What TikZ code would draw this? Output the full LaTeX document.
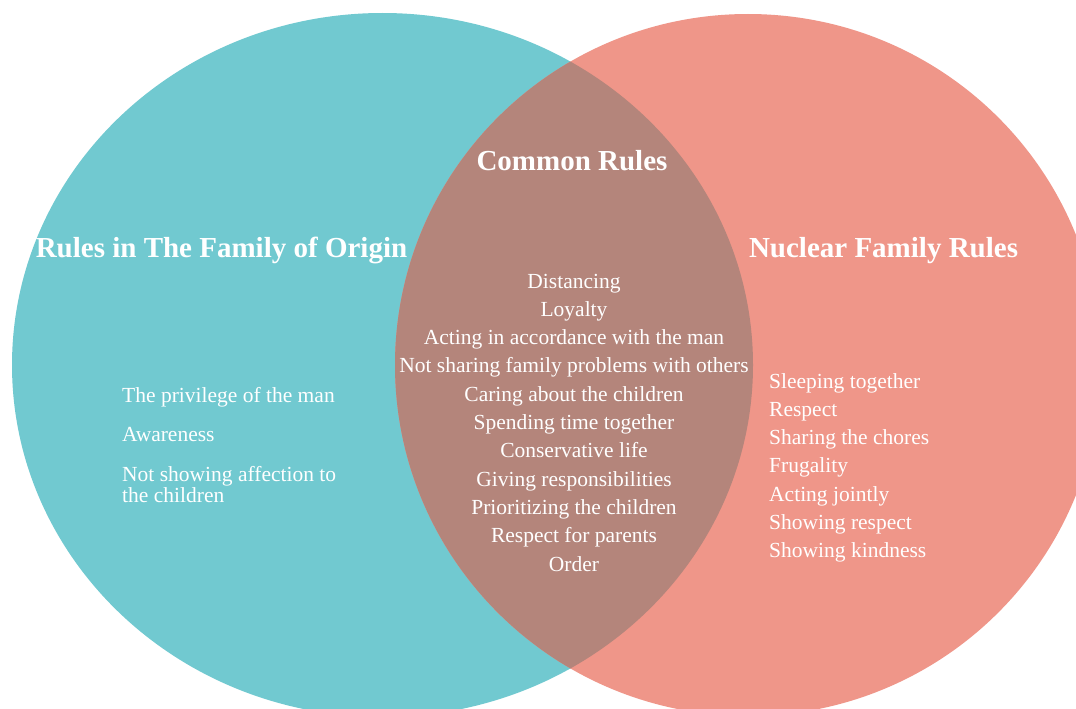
\documentclass[tikz,border=0pt]{standalone}
\usepackage{fontspec}
\setmainfont{Liberation Serif}
\usetikzlibrary{positioning}
\definecolor{origin}{RGB}{113,201,208}
\definecolor{nuclear}{RGB}{239,150,137}
\definecolor{common}{RGB}{180,133,123}
\tikzset{
x=1pt, y=-1pt, % one unit per pixel, y runs downwards
heading/.style={text=white, font=\bfseries\fontsize{29}{32}\selectfont, inner sep=0pt}, % titles of the three sets
item/.style={text=white, font=\fontsize{21.5}{24}\selectfont, inner sep=0pt, text height=15pt, text depth=5pt}, % one rule per node
sideitem/.style={item, text width=230pt, align=flush left}, % left aligned rules
}

\begin{document}
\begin{tikzpicture}
    \useasboundingbox (0,0) rectangle (1076,709);
    \fill[white] (0,0) rectangle (1076,709);
    \clip (0,0) rectangle (1076,709);
    % the two sets and their overlap
    \fill[origin] (382.5,365) ellipse [x radius=370.5pt, y radius=352pt];
    \fill[nuclear] (748,365) ellipse [x radius=353pt, y radius=351pt];
    \begin{scope}
      \clip (382.5,365) ellipse [x radius=370.5pt, y radius=352pt];
      \fill[common] (748,365) ellipse [x radius=353pt, y radius=351pt];
    \end{scope}
    % titles
    \node[heading, anchor=base] (commonT) at (572,170) {Common Rules};
    \node[heading, anchor=base] (originT) at (221.5,257) {Rules in The Family of Origin};
    \node[heading, anchor=base] (nuclearT) at (883.5,257) {Nuclear Family Rules};
    % family of origin
    \node[sideitem, anchor=base west] (o1) at (122,402) {The privilege of the man};
    \node[sideitem, below=19pt of o1] (o2) {Awareness};
    \node[sideitem, below=20pt of o2] (o3) {Not showing affection to};
    \node[sideitem, below=0pt of o3] (o4) {the children};
    % common rules
    \node[item, anchor=base] (c1) at (574,288) {Distancing};
    \node[item, below=7.9pt of c1] (c2) {Loyalty};
    \node[item, below=7.9pt of c2] (c3) {Acting in accordance with the man};
    \node[item, below=7.9pt of c3] (c4) {Not sharing family problems with others};
    \node[item, below=7.9pt of c4] (c5) {Caring about the children};
    \node[item, below=7.9pt of c5] (c6) {Spending time together};
    \node[item, below=7.9pt of c6] (c7) {Conservative life};
    \node[item, below=7.9pt of c7] (c8) {Giving responsibilities};
    \node[item, below=7.9pt of c8] (c9) {Prioritizing the children};
    \node[item, below=7.9pt of c9] (c10) {Respect for parents};
    \node[item, below=7.9pt of c10] (c11) {Order};
    % nuclear family
    \node[sideitem, anchor=base west] (n1) at (769,388) {Sleeping together};
    \node[sideitem, below=7.9pt of n1] (n2) {Respect};
    \node[sideitem, below=7.9pt of n2] (n3) {Sharing the chores};
    \node[sideitem, below=7.9pt of n3] (n4) {Frugality};
    \node[sideitem, below=7.9pt of n4] (n5) {Acting jointly};
    \node[sideitem, below=7.9pt of n5] (n6) {Showing respect};
    \node[sideitem, below=7.9pt of n6] (n7) {Showing kindness};
\end{tikzpicture}
\end{document}
